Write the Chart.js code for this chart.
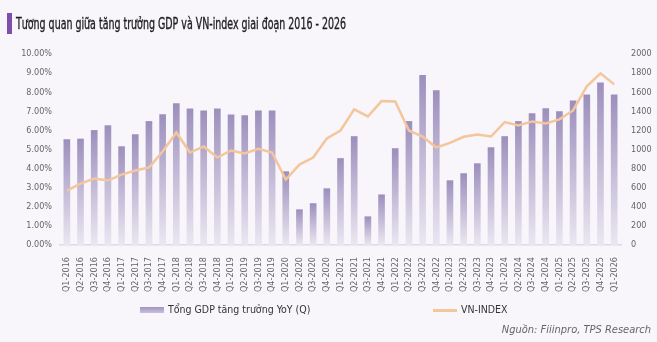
<!DOCTYPE html>
<html>
<head>
<meta charset="utf-8">
<script src="https://cdn.jsdelivr.net/npm/chart.js@4"></script>
<style>
  html, body { margin: 0; padding: 0; background: #f8f5fb; }
  body { width: 657px; height: 342px; position: relative; overflow: hidden; font-family: "DejaVu Sans Condensed", sans-serif; }
  #wrap { position: absolute; left: 0; top: 0; width: 657px; height: 342px; }
  .title-bar { position: absolute; left: 7px; top: 13px; width: 5px; height: 21px; background: #7d4fa8; }
  .title { position: absolute; left: 16px; top: 15px; font-size: 15px; font-weight: normal; color: #1e1e1e; white-space: nowrap; transform-origin: 0 50%; -webkit-text-stroke: 0.35px #1e1e1e; }
  .lg { position: absolute; top: 303px; font-size: 10.5px; color: #333; white-space: nowrap; }
  .lg .sw { display: inline-block; vertical-align: middle; margin-right: 4px; }
  .src { position: absolute; right: 6px; top: 323px; font-size: 11px; font-style: italic; color: #666; }
</style>
</head>
<body>
<div id="wrap"><canvas id="chartGdp" width="657" height="342"></canvas></div>
<div class="title-bar"></div>
<div class="title" id="title">Tương quan giữa tăng trưởng GDP và VN-index giai đoạn 2016 - 2026</div>
<div class="lg" style="left:140px"><span class="sw" style="width:24px;height:6px;background:linear-gradient(#a093bf,#c9c1da)"></span>Tổng GDP tăng trưởng YoY (Q)</div>
<div class="lg" style="left:433px"><span class="sw" style="width:24px;height:3px;background:#f3c69c"></span>VN-INDEX</div>
<div class="src">Nguồn: Fiiinpro, TPS Research</div>
<script>
const quarters = [
  'Q1-2016', 'Q2-2016', 'Q3-2016', 'Q4-2016',
  'Q1-2017', 'Q2-2017', 'Q3-2017', 'Q4-2017',
  'Q1-2018', 'Q2-2018', 'Q3-2018', 'Q4-2018',
  'Q1-2019', 'Q2-2019', 'Q3-2019', 'Q4-2019',
  'Q1-2020', 'Q2-2020', 'Q3-2020', 'Q4-2020',
  'Q1-2021', 'Q2-2021', 'Q3-2021', 'Q4-2021',
  'Q1-2022', 'Q2-2022', 'Q3-2022', 'Q4-2022',
  'Q1-2023', 'Q2-2023', 'Q3-2023', 'Q4-2023',
  'Q1-2024', 'Q2-2024', 'Q3-2024', 'Q4-2024',
  'Q1-2025', 'Q2-2025', 'Q3-2025', 'Q4-2025',
  'Q1-2026'
];

// GDP YoY (%)
const gdpGrowth = [
  5.52, 5.55, 6.00, 6.25,
  5.15, 5.78, 6.47, 6.83,
  7.40, 7.13, 7.03, 7.13,
  6.82, 6.77, 7.03, 7.03,
  3.84, 1.85, 2.17, 2.95,
  4.53, 5.68, 1.48, 2.63,
  5.05, 6.47, 8.88, 8.09,
  3.37, 3.74, 4.26, 5.10,
  5.68, 6.47, 6.88, 7.14,
  6.98, 7.55, 7.86, 8.49,
  7.86
];

// VN-INDEX (điểm)
const vnIndex = [
  570, 643, 695, 675,
  737, 780, 811, 979,
  1178, 968, 1031, 916,
  990, 958, 1007, 968,
  685, 842, 916, 1115,
  1199, 1420, 1346, 1507,
  1503, 1199, 1136, 1021,
  1070, 1133, 1157, 1136,
  1287, 1252, 1294, 1273,
  1315, 1409, 1661, 1797,
  1682
];

const purpleTop = '#9d8fbd';
const purpleBottom = '#ebe7f1';
const peach = '#f3c69c';

// title is set in a narrow face in the original, squeeze to the same width
const titleEl = document.getElementById('title');
titleEl.style.transform = 'scaleX(' + (330 / titleEl.offsetWidth) + ')';

function barGradient(ctx) {
  const chart = ctx.chart;
  if (!chart.chartArea || ctx.type !== 'data') return purpleTop;
  const y = chart.scales.y;
  const top = y.getPixelForValue(ctx.raw);
  const bottom = y.getPixelForValue(0);
  const g = chart.ctx.createLinearGradient(0, top, 0, bottom);
  g.addColorStop(0, purpleTop);
  g.addColorStop(1, purpleBottom);
  return g;
}

const tickFont = { family: '"DejaVu Sans Condensed", sans-serif', size: 9 };

new Chart(document.getElementById('chartGdp'), {
  type: 'bar',
  data: {
    labels: quarters,
    datasets: [
      {
        type: 'line',
        label: 'VN-INDEX',
        data: vnIndex,
        yAxisID: 'y1',
        borderColor: peach,
        borderWidth: 2.5,
        pointRadius: 0,
        tension: 0,
        order: 0,
      },
      {
        label: 'Tổng GDP tăng trưởng YoY (Q)',
        data: gdpGrowth,
        yAxisID: 'y',
        backgroundColor: barGradient,
        barThickness: 6,
        order: 1,
      },
    ],
  },
  options: {
    responsive: false,
    animation: false,
    layout: { padding: { top: 54, bottom: 46, left: 0, right: 0 } },
    plugins: { legend: { display: false }, tooltip: { enabled: false } },
    scales: {
      x: {
        grid: { display: false },
        border: { color: '#dedae6', width: 1.5 },
        ticks: { color: '#666', font: tickFont, minRotation: 90, maxRotation: 90, autoSkip: false, padding: 4 },
        afterFit: (s) => { s.height = 51; },
      },
      y: {
        position: 'left',
        min: 0, max: 10,
        grid: { display: false, drawTicks: false },
        border: { display: false },
        ticks: { stepSize: 1, color: '#666', font: tickFont, padding: 8, callback: (v) => v.toFixed(2) + '%' },
        afterFit: (s) => { s.width = 60; },
      },
      y1: {
        position: 'right',
        min: 0, max: 2000,
        grid: { display: false, drawTicks: false },
        border: { display: false },
        ticks: { stepSize: 200, color: '#666', font: tickFont, padding: 10, callback: (v) => String(v) },
        afterFit: (s) => { s.width = 36; },
      },
    },
  },
});
</script>
</body>
</html>
